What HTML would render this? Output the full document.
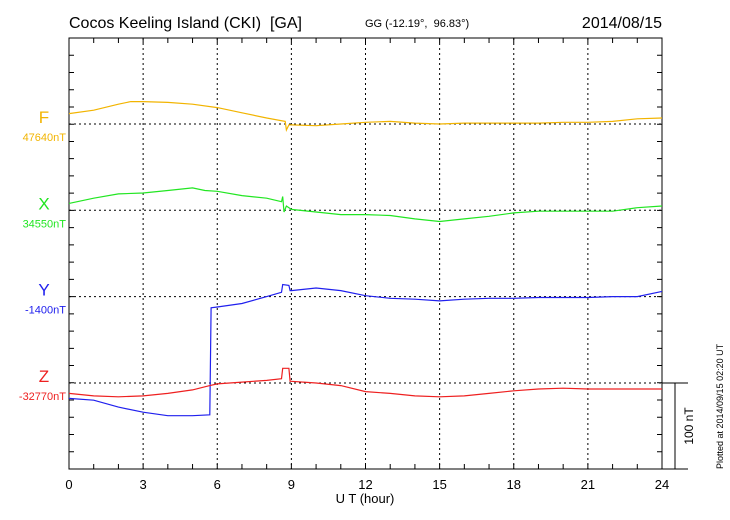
<!DOCTYPE html>
<html><head><meta charset="utf-8"><style>
html,body{margin:0;padding:0;background:#fff;width:730px;height:520px;overflow:hidden}
svg{display:block;font-family:"Liberation Sans",sans-serif}
</style></head><body>
<svg id="c" width="730" height="520"></svg>
<script>
const hours=[0,3,6,9,12,15,18,21,24];
const compNames=['F','X','Y','Z'];
const compBase=['47640nT','34550nT','-1400nT','-32770nT'];
const compColor=['#f2b400','#22e622','#2020ee','#ee2020'];
const fT=[0,1,2,2.5,3,4,5,6,7,8,8.75,8.8,8.9,9,10,11,12,13,14,15,16,17,18,19,20,21,22,23,24];
const fV=[12,16,23,26,26,25,23,19,13,7,3,-7,-1,-1,-2,0,2,3,1,0,1,1,1,1,2,2,3,6,7];
const xT=[0,1,2,3,4,5,5.5,6,7,8,8.6,8.65,8.7,8.8,9,10,11,12,13,14,15,16,17,18,19,20,21,22,23,24];
const xV=[8,14,19,20,23,26,23,22,17,14,10,16,-2,5,1,-2,-5,-5,-6,-10,-13,-10,-7,-3,-1,-1,-1,-1,3,5];
const yT=[0,1,2,3,4,5,5.7,5.75,6,7,8,8.6,8.65,8.9,8.95,9,10,11,12,13,14,15,16,17,18,19,20,21,22,23,24];
const yV=[-118,-120,-128,-134,-138,-138,-137,-13,-12,-8,0,5,14,13,7,7,10,7,1,-2,-3,-5,-3,-2,-2,-1,-1,-1,0,0,6];
const zT=[0,1,2,3,4,5,5.7,6,7,8,8.6,8.65,8.9,8.95,9,10,11,12,13,14,15,16,17,18,19,20,21,22,23,24];
const zV=[-12,-15,-16,-15,-12,-8,-3,-1,1,3,5,17,17,2,2,0,-3,-10,-12,-15,-16,-15,-12,-9,-7,-6,-7,-7,-7,-7];
const series=[[fT,fV],[xT,xV],[yT,yV],[zT,zV]];

const L=69,R=662,T=38,B=469,PXNT=86.3/100;
const bases=[124,210.3,296.6,383];
const sx=h=>L+(R-L)*h/24;
const sy=(i,v)=>bases[i]-v*PXNT;
const svg=document.getElementById('c');
const NS='http://www.w3.org/2000/svg';
function mk(t,a,txt){const e=document.createElementNS(NS,t);for(const k in a)e.setAttribute(k,a[k]);if(txt!==undefined)e.textContent=txt;svg.appendChild(e);return e;}

let e;
e=mk('text',{x:69,y:28,'font-size':16},'Cocos Keeling Island (CKI)\u00a0\u00a0[GA]');


e=mk('text',{x:365,y:27,'font-size':11},'GG (-12.19°,\u00a0\u00a096.83°)');


e=mk('text',{x:662,y:28,'font-size':16,'text-anchor':'end'},'2014/08/15');



// gridlines
hours.slice(1,-1).forEach(h=>{
  e=mk('line',{x1:sx(h),x2:sx(h),y1:T,y2:B,stroke:'#000','stroke-width':1,'stroke-dasharray':'2,3'});
  
  
});
bases.forEach(b=>{
  e=mk('line',{x1:L,x2:R,y1:b,y2:b,stroke:'#000','stroke-width':1,'stroke-dasharray':'2,3'});
  
  
});
// frame
e=mk('rect',{x:L,y:T,width:R-L,height:B-T,fill:'none',stroke:'#000','stroke-width':1});


// ticks
let tk='';
for(let h=1;h<24;h++){const x=sx(h);tk+=`M${x},${T}v5M${x},${B}v-5`;}
for(let y=T+17.24;y<B-1;y+=17.24){tk+=`M${L},${y}h5M${R},${y}h-5`;}
e=mk('path',{d:tk,stroke:'#000','stroke-width':1,fill:'none'});


hours.forEach(h=>{
  e=mk('text',{x:sx(h),y:489,'font-size':13,'text-anchor':'middle'},String(h));
  
  
});
e=mk('text',{x:365,y:503,'font-size':13,'text-anchor':'middle'},'U T (hour)');



// series
series.forEach((s,i)=>{
  let d='';
  s[0].forEach((h,j)=>{d+=(j?'L':'M')+sx(h).toFixed(1)+','+sy(i,s[1][j]).toFixed(1);});
  e=mk('path',{d:d,fill:'none',stroke:compColor[i],'stroke-width':1.2});
  
  
  e=mk('text',{x:44,y:bases[i]-1,'font-size':17,fill:compColor[i],'text-anchor':'middle'},compNames[i]);
  
  
  e=mk('text',{x:66,y:bases[i]+17,'font-size':11,fill:compColor[i],'text-anchor':'end'},compBase[i]);
  
  
});

// scale bar
e=mk('path',{d:`M${R},383H688M${R},${B}H688M675,383V${B}`,stroke:'#000','stroke-width':1,fill:'none'});


e=mk('text',{x:0,y:0,'font-size':12,'text-anchor':'middle',transform:'translate(693,426) rotate(-90)'},'100 nT');


e=mk('text',{x:0,y:0,'font-size':9,'text-anchor':'start',transform:'translate(723,469) rotate(-90)'},'Plotted at 2014/09/15 02:20 UT');


</script>
</body></html>
